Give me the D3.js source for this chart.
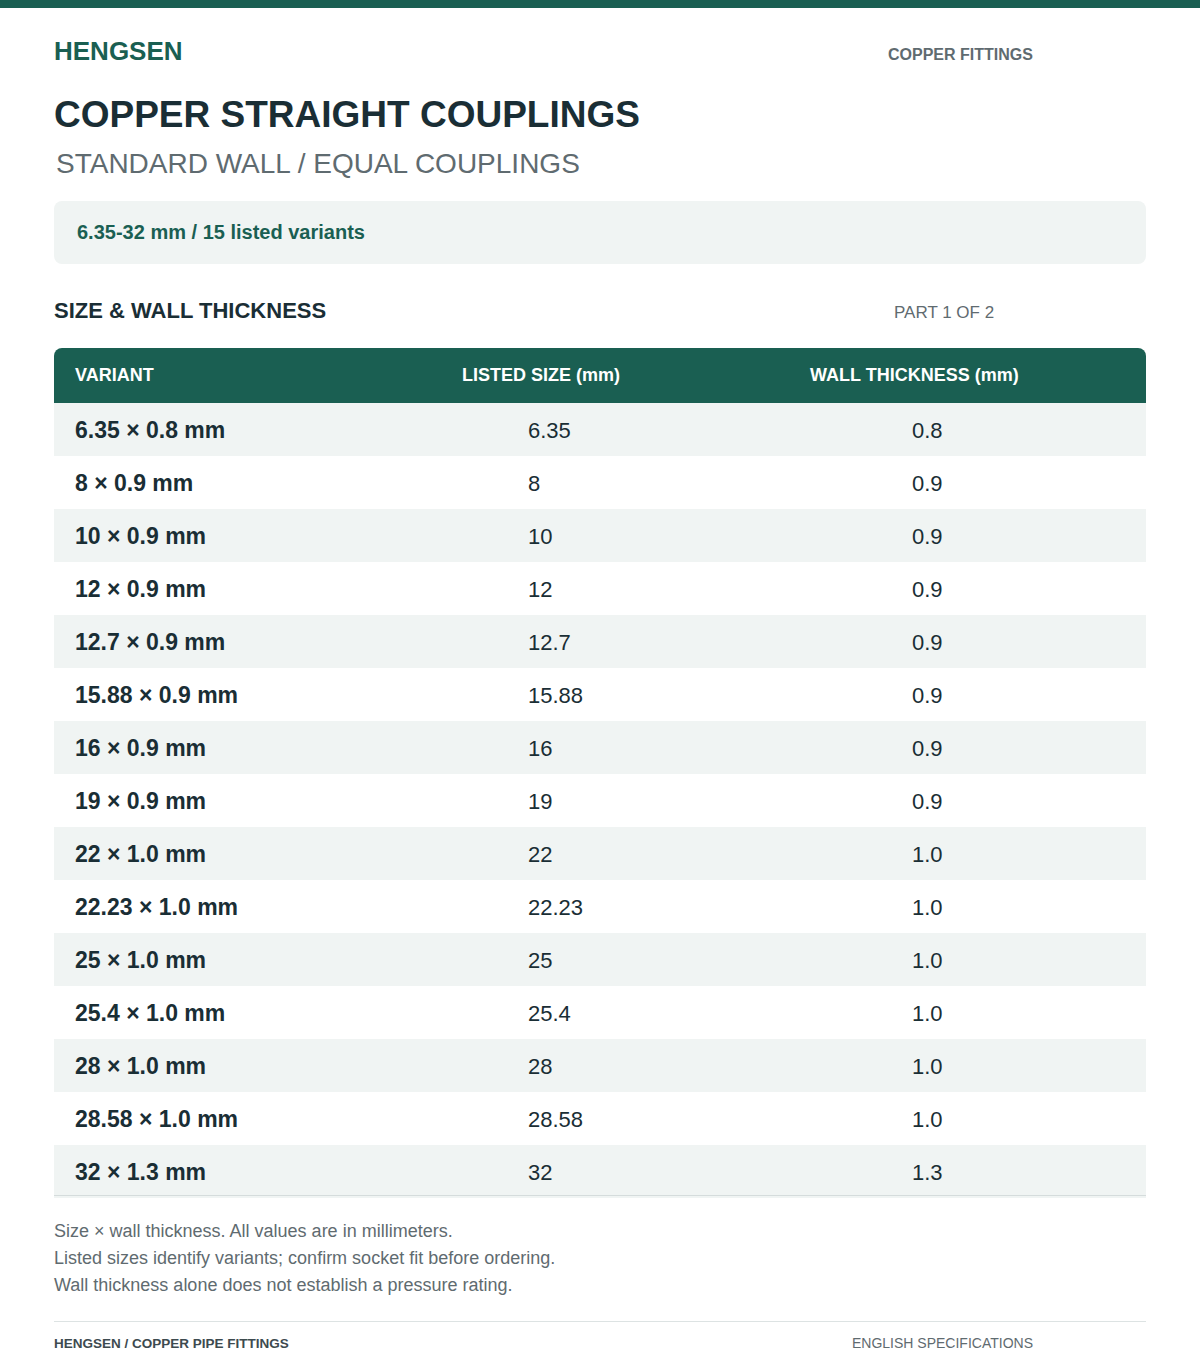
<!DOCTYPE html>
<html><head><meta charset="utf-8">
<script src="https://cdn.jsdelivr.net/npm/d3@7"></script>
<style>body{margin:0;background:#fff}svg{display:block;font-family:"Liberation Sans",Arial,sans-serif}</style>
</head><body>
<script>
// table data
const variants = ['6.35 × 0.8 mm','8 × 0.9 mm','10 × 0.9 mm','12 × 0.9 mm','12.7 × 0.9 mm','15.88 × 0.9 mm','16 × 0.9 mm','19 × 0.9 mm','22 × 1.0 mm','22.23 × 1.0 mm','25 × 1.0 mm','25.4 × 1.0 mm','28 × 1.0 mm','28.58 × 1.0 mm','32 × 1.3 mm'];
const sizes = ['6.35','8','10','12','12.7','15.88','16','19','22','22.23','25','25.4','28','28.58','32'];
const walls = ['0.8','0.9','0.9','0.9','0.9','0.9','0.9','0.9','1.0','1.0','1.0','1.0','1.0','1.0','1.3'];
const headers = ['VARIANT','LISTED SIZE (mm)','WALL THICKNESS (mm)'];
const notes = ['Size × wall thickness. All values are in millimeters.','Listed sizes identify variants; confirm socket fit before ordering.','Wall thickness alone does not establish a pressure rating.'];

const green = '#1a5f52', dark = '#1a2e35', gray = '#5f6b70', light = '#f0f4f3';
const svg = d3.select('body').append('svg').attr('width',1200).attr('height',1369);

svg.append('rect').attr('width',1200).attr('height',8).attr('fill',green);
const txt = (x,y,s,size,fill,weight) => svg.append('text').attr('x',x).attr('y',y).text(s)
  .attr('font-size',size).attr('fill',fill).attr('font-weight',weight||'normal');

txt(54,60,'HENGSEN',26,green,'bold');
txt(888,60,'COPPER FITTINGS',16,gray,'bold');
txt(54,127,'COPPER STRAIGHT COUPLINGS',37,dark,'bold');
txt(56,173,'STANDARD WALL / EQUAL COUPLINGS',28,gray);
svg.append('rect').attr('x',54).attr('y',201).attr('width',1092).attr('height',63).attr('rx',8).attr('fill',light);
txt(77,239,'6.35-32 mm / 15 listed variants',20,green,'bold');
txt(54,318,'SIZE & WALL THICKNESS',22,dark,'bold');
txt(894,318,'PART 1 OF 2',17,gray);

// header
const y = d3.scaleBand().domain(d3.range(variants.length)).range([403,1198]);
svg.append('path').attr('fill',green)
  .attr('d','M54,403V356a8,8 0 0 1 8,-8H1138a8,8 0 0 1 8,8V403Z');
const colX = [75,462,810];
headers.forEach((h,i)=>txt(colX[i],381,h,18,'#fff','bold'));

const rows = svg.selectAll('g.row').data(variants).join('g').attr('class','row')
  .attr('transform',(d,i)=>`translate(0,${y(i)})`);
rows.append('rect').attr('x',54).attr('width',1092).attr('height',y.bandwidth())
  .attr('fill',(d,i)=>i%2===0?light:'#fff');
rows.append('text').attr('x',75).attr('y',35).text(d=>d).attr('font-size',23).attr('font-weight','bold').attr('fill',dark);
rows.append('text').attr('x',528).attr('y',35).text((d,i)=>sizes[i]).attr('font-size',22).attr('fill',dark);
rows.append('text').attr('x',912).attr('y',35).text((d,i)=>walls[i]).attr('font-size',22).attr('fill',dark);
svg.append('line').attr('x1',54).attr('x2',1146).attr('y1',1195.5).attr('y2',1195.5).attr('stroke','#d5dcdc');

notes.forEach((n,i)=>txt(54,1237+i*27,n,18,gray));
svg.append('line').attr('x1',54).attr('x2',1146).attr('y1',1321.5).attr('y2',1321.5).attr('stroke','#dde3e3');
txt(54,1348,'HENGSEN / COPPER PIPE FITTINGS',13.5,'#3d4a4f','bold');
txt(852,1348,'ENGLISH SPECIFICATIONS',14,gray);
</script>
</body></html>
